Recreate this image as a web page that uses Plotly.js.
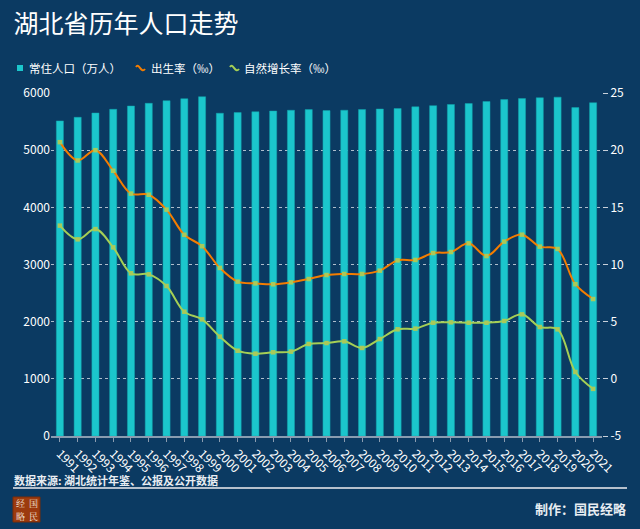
<!DOCTYPE html>
<html>
<head>
<meta charset="utf-8">
<script src="https://cdn.plot.ly/plotly-3.0.1.min.js"></script>
<style>
html,body{margin:0;padding:0;background:#0b3a62;}
#chart{width:640px;height:529px;}
</style>
</head>
<body>
<div id="chart"></div>
<script>
var years = ['1991','1992','1993','1994','1995','1996','1997','1998','1999','2000','2001','2002','2003','2004','2005','2006','2007','2008','2009','2010','2011','2012','2013','2014','2015','2016','2017','2018','2019','2020','2021'];
var population = [5512,5575,5650,5715,5772,5820,5866,5900,5935,5646,5658,5672,5685,5698,5710,5693,5699,5711,5720,5728,5758,5779,5799,5816,5852,5885,5902,5917,5927,5745,5830];
var birthRate = [20.7,19.1,20.0,18.2,16.2,16.1,14.8,12.6,11.6,9.7,8.5,8.35,8.27,8.44,8.73,9.08,9.17,9.17,9.46,10.36,10.4,11.0,11.09,11.85,10.74,12.0,12.61,11.56,11.36,8.28,6.98];
var growthRate = [13.4,12.2,13.1,11.5,9.23,9.14,8.12,5.87,5.2,3.69,2.46,2.2,2.32,2.38,3.05,3.13,3.28,2.7,3.48,4.33,4.39,4.91,4.94,4.91,4.91,5.06,5.64,4.53,4.33,0.6,-0.88];
var leftTicks = [0,1000,2000,3000,4000,5000,6000];
var rightTicks = [-5,0,5,10,15,20,25];
var seriesNames = ['常住人口（万人）','出生率（‰）','自然增长率（‰）'];
var seriesColors = ['#1bc6cc','#f47d00','#a5cf55'];

var FONT = '"Noto Sans CJK SC", "Noto Sans", sans-serif';
var BG = '#0b3a62';

var traces = [
  {
    type: 'bar', name: seriesNames[0], x: years, y: population,
    marker: {color: seriesColors[0], line: {color: '#12a5ad', width: 0.5}},
    width: 0.4
  },
  {
    type: 'scatter', mode: 'lines+markers', name: seriesNames[1], x: years, y: birthRate,
    yaxis: 'y2', line: {color: seriesColors[1], width: 2, shape: 'spline', smoothing: 1},
    marker: {color: '#a9c95a', size: 4.5, symbol: 'square'}
  },
  {
    type: 'scatter', mode: 'lines+markers', name: seriesNames[2], x: years, y: growthRate,
    yaxis: 'y2', line: {color: seriesColors[2], width: 2, shape: 'spline', smoothing: 1},
    marker: {color: '#a9c95a', size: 4.5, symbol: 'square'}
  }
];

// pixel helpers for paper-relative placement of decorations
var L = 51, R = 38, T = 93, B = 93, W = 640, H = 529;
var PW = W - L - R, PH = H - T - B;
function px(x) { return (x - L) / PW; }
function py(y) { return (H - B - y) / PH; }

var legendY = 68;
var shapes = [
  // legend: square for bars
  {type: 'rect', xref: 'paper', yref: 'paper', x0: px(17), x1: px(23), y0: py(legendY + 3), y1: py(legendY - 3),
   fillcolor: seriesColors[0], line: {width: 0}},
  // legend: wave icons
  {type: 'path', xref: 'paper', yref: 'paper',
   path: 'M ' + px(136) + ' ' + py(legendY - 1) + ' C ' + px(139) + ' ' + py(legendY - 6) + ' ' + px(141) + ' ' + py(legendY + 6) + ' ' + px(145) + ' ' + py(legendY + 1),
   line: {color: seriesColors[1], width: 2}},
  {type: 'path', xref: 'paper', yref: 'paper',
   path: 'M ' + px(230) + ' ' + py(legendY - 1) + ' C ' + px(233) + ' ' + py(legendY - 6) + ' ' + px(235) + ' ' + py(legendY + 6) + ' ' + px(239) + ' ' + py(legendY + 1),
   line: {color: seriesColors[2], width: 2}},
  // footer rule
  {type: 'line', xref: 'paper', yref: 'paper', x0: px(13), x1: px(627), y0: py(488), y1: py(488),
   line: {color: '#b6c0cc', width: 2}},
  // logo block
  {type: 'rect', xref: 'paper', yref: 'paper', x0: px(13), x1: px(40), y0: py(522), y1: py(497),
   fillcolor: '#9c3a0e', line: {color: '#7a2c08', width: 1}}
];

var annotations = [
  {text: seriesNames[0], xref: 'paper', yref: 'paper', x: px(27), xanchor: 'left', y: py(legendY), yanchor: 'middle',
   showarrow: false, font: {family: FONT, size: 11.5, color: '#ffffff'}},
  {text: seriesNames[1], xref: 'paper', yref: 'paper', x: px(149), xanchor: 'left', y: py(legendY), yanchor: 'middle',
   showarrow: false, font: {family: FONT, size: 11.5, color: '#ffffff'}},
  {text: seriesNames[2], xref: 'paper', yref: 'paper', x: px(242), xanchor: 'left', y: py(legendY), yanchor: 'middle',
   showarrow: false, font: {family: FONT, size: 11.5, color: '#ffffff'}},
  {text: '<b>数据来源: 湖北统计年鉴、公报及公开数据</b>', xref: 'paper', yref: 'paper',
   x: px(12), xanchor: 'left', y: py(480), yanchor: 'middle', showarrow: false,
   font: {family: FONT, size: 11, color: '#e8edf2'}},
  {text: '<b>制作：国民经略</b>', xref: 'paper', yref: 'paper',
   x: px(628), xanchor: 'right', y: py(508), yanchor: 'middle', showarrow: false,
   font: {family: FONT, size: 13, color: '#e8edf2'}}
];
var logoChars = [['经', 20, 503], ['国', 33, 503], ['略', 20, 516], ['民', 33, 516]];
logoChars.forEach(function (c) {
  annotations.push({text: c[0], xref: 'paper', yref: 'paper', x: px(c[1]), y: py(c[2]),
    xanchor: 'center', yanchor: 'middle', showarrow: false,
    font: {family: '"Noto Serif CJK SC", "Noto Sans CJK SC", serif', size: 9, color: '#f3e6dc'}});
});

var layout = {
  width: W, height: H,
  paper_bgcolor: BG, plot_bgcolor: BG,
  margin: {l: L, r: R, t: T, b: B},
  font: {family: FONT, color: '#ffffff', size: 12},
  title: {text: '湖北省历年人口走势', x: 0.021, xanchor: 'left', y: 0.955, yanchor: 'middle',
          font: {family: FONT, size: 25, color: '#ffffff'}},
  showlegend: false,
  bargap: 0.6,
  xaxis: {
    type: 'category', tickangle: 45, tickfont: {family: FONT, size: 12, color: '#ffffff'},
    showline: true, linecolor: '#8a9cb0', linewidth: 2,
    ticks: 'outside', tickcolor: '#8a9cb0', ticklen: 4, showgrid: false,
    range: [-0.5, 30.5]
  },
  yaxis: {
    range: [0, 6000], tickvals: leftTicks, ticktext: leftTicks.map(String),
    tickfont: {family: FONT, size: 12, color: '#ffffff'},
    showgrid: true, gridcolor: 'rgba(230,235,240,0.75)', griddash: 'dot', gridwidth: 1,
    zeroline: false, showline: false, ticks: ''
  },
  yaxis2: {
    overlaying: 'y', side: 'right', range: [-5, 25], tickvals: rightTicks, ticktext: rightTicks.map(String),
    tickfont: {family: FONT, size: 12, color: '#ffffff'},
    showgrid: false, zeroline: false, showline: false,
    ticks: 'outside', ticklen: 5, tickcolor: '#c8d0da'
  },
  shapes: shapes,
  annotations: annotations
};

Plotly.newPlot('chart', traces, layout, {staticPlot: true, displayModeBar: false});
</script>
</body>
</html>
